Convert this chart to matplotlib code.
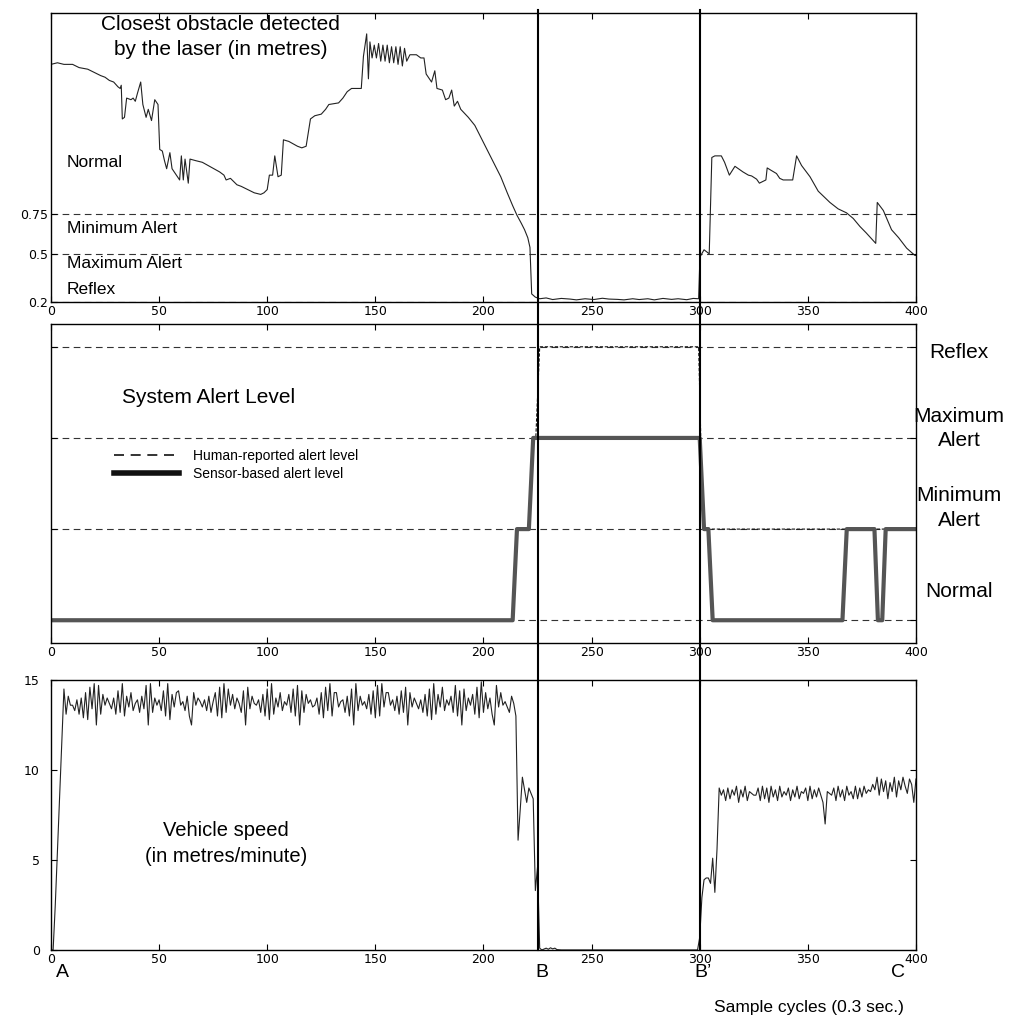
import matplotlib
matplotlib.use('Agg')
import matplotlib.pyplot as plt
from matplotlib.lines import Line2D
from matplotlib.transforms import blended_transform_factory
import numpy as np

plt.rcParams['font.family'] = ['Liberation Sans', 'DejaVu Sans']

# ---- panel 1: closest obstacle (metres), read at breakpoints ----
dist_cycle = [0, 3, 6, 10, 13, 17, 20, 23, 25, 27, 29, 31, 32, 32.5, 33, 34, 35, 37, 38, 39,
              40, 41.5, 42.5, 44, 45, 46.5, 48, 49.5, 50.3, 51.5, 52.5, 53.5, 55, 56, 57.5, 59.5,
              60.3, 61.2, 62, 63.5, 64.3, 67, 70, 74, 78, 80, 81, 83, 86, 88, 91, 94, 97, 98.5,
              100, 101, 102.5, 103.5, 105, 106.5, 107.5, 110, 114, 116, 118, 120, 122, 125, 127,
              128.5, 133, 135, 137, 139, 143.5, 144.5, 146, 146.8, 147.5, 148.5, 149.5, 150.5,
              151.5, 152.5, 153.5, 154.5, 155.5, 156.5, 157.5, 158.5, 159.5, 160.5, 161.5, 162.5,
              163.5, 164.5, 166, 169, 171, 172.5, 173.5, 176, 177.5, 178.5, 181, 182.5, 184, 185.3,
              186.5, 188, 189.5, 193, 196, 199, 202, 205, 208, 211, 213.5, 215.5, 217.5, 219,
              220.5, 221.5, 222.3, 224, 226, 229, 232, 236, 240, 243, 247, 251, 255, 258, 262,
              265, 269, 272, 276, 279, 283, 287, 290, 294, 297, 299.5, 300.1, 302, 304.4, 305.6,
              307, 310, 311.5, 313.7, 316.3, 320, 322.5, 324, 326.3, 327.6, 330.6, 331.2, 333,
              335.5, 337, 338.6, 343, 344.8, 347.1, 351, 354.8, 360.2, 364, 367.9, 371, 374.1,
              377, 380, 381.4, 382.1, 384.9, 388.7, 392, 395.7, 399.5, 400]
dist_m = [1.68, 1.69, 1.68, 1.68, 1.66, 1.65, 1.63, 1.61, 1.60, 1.58, 1.57, 1.54, 1.53, 1.55, 1.34,
          1.35, 1.47, 1.46, 1.47, 1.45, 1.50, 1.57, 1.43, 1.35, 1.40, 1.33, 1.46, 1.43, 1.15, 1.14,
          1.08, 1.03, 1.13, 1.03, 1.00, 0.96, 1.11, 0.96, 1.09, 0.94, 1.09, 1.08, 1.07, 1.04, 1.01,
          0.99, 0.96, 0.97, 0.93, 0.92, 0.90, 0.88, 0.87, 0.88, 0.90, 0.99, 0.99, 1.11, 0.98, 0.99,
          1.21, 1.20, 1.17, 1.16, 1.17, 1.34, 1.36, 1.37, 1.40, 1.43, 1.44, 1.47, 1.51, 1.53, 1.53,
          1.73, 1.87, 1.59, 1.82, 1.72, 1.80, 1.72, 1.81, 1.70, 1.80, 1.70, 1.80, 1.69, 1.79, 1.69,
          1.79, 1.68, 1.79, 1.67, 1.78, 1.70, 1.74, 1.74, 1.72, 1.72, 1.62, 1.57, 1.64, 1.53, 1.52,
          1.46, 1.47, 1.52, 1.42, 1.45, 1.40, 1.35, 1.30, 1.22, 1.14, 1.06, 0.98, 0.88, 0.80, 0.74,
          0.69, 0.65, 0.60, 0.54, 0.25, 0.23, 0.22, 0.225, 0.215, 0.222, 0.218, 0.213, 0.22, 0.215,
          0.223, 0.218, 0.216, 0.213, 0.22, 0.215, 0.22, 0.213, 0.222, 0.216, 0.22, 0.214, 0.222,
          0.22, 0.48, 0.525, 0.50, 1.10, 1.11, 1.11, 1.07, 0.99, 1.045, 1.01, 0.99, 0.985, 0.965,
          0.94, 0.96, 1.035, 1.02, 1.0, 0.97, 0.96, 0.96, 1.11, 1.05, 0.98, 0.89, 0.82, 0.78, 0.755,
          0.72, 0.67, 0.63, 0.585, 0.565, 0.82, 0.77, 0.65, 0.60, 0.535, 0.49, 0.49]
dist_ticks = [0.2, 0.5, 0.75]
dist_ticklabels = ['0.2', '0.5', '0.75']

# ---- panel 2: alert levels (0 normal .. 3 reflex) ----
alert_levels = [0, 1, 2, 3]
alert_names = ['Normal', 'Minimum\nAlert', 'Maximum\nAlert', 'Reflex']
sensor_cycle = [0, 213.5, 215.5, 221, 223, 300, 302, 304, 306, 366, 368, 380.8, 382.4, 384.4, 386, 400]
sensor_level = [0, 0, 1, 1, 2, 2, 1, 1, 0, 0, 1, 1, 0, 0, 1, 1]
human_cycle = [0, 213.5, 215.5, 221, 223, 224.2, 226, 299.5, 301.5, 400]
human_level = [0, 0, 1, 1, 2, 2, 3, 3, 1, 1]

# ---- panel 3: vehicle speed (metres/minute), one value per cycle ----
speed_run1 = [0.0, 0.0, 2.5, 5.5, 8.5, 11.5, 14.5, 13.1,
              14.1, 13.6, 13.6, 13.3, 13.9, 13.1, 14.0, 12.9, 14.3, 12.8, 14.6, 13.4, 14.8, 12.5,
              14.7, 13.1, 14.2, 13.6, 14.0, 13.7, 13.4, 14.0, 13.1, 14.4, 13.2, 14.8, 13.0, 14.1,
              13.5, 14.3, 13.3, 13.7, 13.9, 13.2, 14.1, 13.4, 14.7, 12.5,
              14.8, 13.2, 14.0, 13.6, 13.9, 13.3, 14.4, 13.0, 14.8, 12.8, 14.2, 13.5, 14.3, 14.4,
              13.6, 13.8, 13.3, 14.1, 13.0, 12.5,
              14.3, 13.6, 14.0, 13.8, 13.5, 13.9, 13.3, 14.1, 13.2, 13.8, 14.3, 13.0, 14.6, 12.9,
              14.8, 13.2, 14.5, 13.6, 14.2, 13.4, 14.0, 13.7, 13.2, 14.4, 12.5,
              14.6, 13.4, 14.1, 13.7, 13.6, 13.9, 13.2, 14.2, 13.0, 14.5, 12.8, 14.8, 13.1, 14.0,
              13.5, 14.3, 13.3, 13.8, 13.6, 14.2, 13.2, 14.5, 13.0, 14.7, 12.5,
              14.4, 13.2, 14.2, 13.7, 13.9, 13.5, 13.6, 14.0, 13.1, 14.3, 12.9, 14.6, 13.3, 14.8,
              13.0, 14.3, 14.3, 13.5, 13.8, 13.9, 13.2, 14.1, 13.0, 14.5, 12.5,
              14.8, 13.3, 14.1, 13.6, 13.8, 13.4, 14.2, 13.1, 14.4, 12.9, 14.7, 13.0, 14.8, 13.5,
              14.3, 14.3, 13.6, 13.9, 13.3, 14.1, 13.1, 14.4, 13.2, 14.6, 12.5,
              14.3, 13.5, 14.0, 13.7, 13.4, 13.9, 13.2, 14.2, 13.0, 14.5, 12.8, 14.8, 13.1, 14.2,
              13.5, 14.6, 13.3, 13.9, 13.6, 14.1, 13.2, 14.7, 13.0, 14.4, 12.5,
              14.5, 13.3, 14.0, 13.6, 14.2, 13.1, 14.6, 12.9, 14.9, 13.2, 14.3, 13.4, 14.0, 13.1, 12.5,
              14.7, 13.5, 14.3, 13.6, 13.8, 13.5, 13.2, 14.1, 13.7, 13.0,
              6.1, 7.8, 9.6, 8.9, 8.2, 9.0, 8.7, 8.4, 3.3, 4.6, 0.1]
stop_cycle = [227, 228, 229, 230, 231, 232, 233, 234, 236, 298]
stop_speed = [0.0, 0.05, 0.1, 0.04, 0.12, 0.06, 0.1, 0.02, 0.0, 0.0]
speed_run2 = [0.0, 0.7, 2.9, 3.9, 4.0, 4.0, 3.7, 5.1, 3.2, 5.6, 9.0,
              8.6, 8.9, 8.3, 9.0, 8.4, 8.9, 8.6, 9.1, 8.2, 8.9,
              8.5, 9.1, 8.3, 8.8, 8.7, 8.6, 8.6, 9.0, 8.3, 9.1,
              8.4, 9.0, 8.2, 9.1, 8.5, 8.9, 8.3, 9.1, 8.5, 8.8,
              8.6, 9.0, 8.3, 8.9, 8.5, 9.1, 8.4, 8.8, 8.7, 9.0,
              8.3, 9.1, 8.4, 8.9, 8.5, 9.0, 8.6, 8.2, 7.0, 8.8,
              8.7, 8.6, 9.0, 8.3, 9.1, 8.5, 8.9, 8.3, 9.1, 8.6,
              8.8, 8.4, 9.1, 8.4, 9.0, 8.5, 9.1, 8.7, 8.9, 8.8,
              9.2, 8.9, 9.6, 8.6, 9.5, 8.8, 9.4, 8.4, 9.3, 8.8,
              9.6, 8.5, 9.4, 8.9, 9.6, 9.1, 8.7, 9.5, 9.2, 8.2,
              9.5]
speed_ticks = [0, 5, 10, 15]

events = [225, 300]
event_letters = [(5.5, 'A'), (226.9, 'B'), (301.5, 'B\u2019'), (391.7, 'C')]
cycle_ticks = list(range(0, 401, 50))

# ---- figure ----
fig = plt.figure(figsize=(10.11, 10.16), dpi=100)
L, W = 0.0504, 0.8556
ax1 = fig.add_axes([L, 0.7028, W, 0.2844])
ax2 = fig.add_axes([L, 0.3671, W, 0.3140])
ax3 = fig.add_axes([L, 0.0650, W, 0.2657])

dash_grid = dict(color='#333333', lw=0.8, linestyle=(0, (6, 4)))

for ax in (ax1, ax2, ax3):
    ax.set_xlim(0, 400)
    ax.set_xticks(cycle_ticks)
    ax.tick_params(direction='in', length=4, width=0.8, top=True, right=True,
                   labelsize=9, pad=2)
    for s in ax.spines.values():
        s.set_linewidth(1.0)

# panel 1
ax1.plot(dist_cycle, dist_m, color='#222222', lw=0.8)
ax1.set_ylim(0.2, 2.0)
ax1.set_yticks(dist_ticks)
ax1.set_yticklabels(dist_ticklabels)
ax1.grid(axis='y', **dash_grid)
ax1.text(78.6, 1.85, 'Closest obstacle detected\nby the laser (in metres)',
         ha='center', va='center', fontsize=15, linespacing=1.4)
ax1.text(7.4, 1.07, 'Normal', fontsize=12.5, va='center')
ax1.text(7.4, 0.656, 'Minimum Alert', fontsize=12.5, va='center')
ax1.text(7.4, 0.4375, 'Maximum Alert', fontsize=12.5, va='center')
ax1.text(7.4, 0.28, 'Reflex', fontsize=12.5, va='center')

# panel 2
ax2.set_ylim(-0.25, 3.25)
ax2.set_yticks(alert_levels)
ax2.set_yticklabels([])
ax2.grid(axis='y', **dash_grid)
ax2.plot(human_cycle, human_level, color='#111111', lw=0.8, linestyle=(0, (3, 1.5)))
ax2.plot(sensor_cycle, sensor_level, color='#555555', lw=3)
name_y = [0.31, 1.23, 2.10, 2.94]
for lvl_y, name in zip(name_y, alert_names):
    ax2.text(420, lvl_y, name, ha='center', va='center', fontsize=15,
             linespacing=1.35, clip_on=False)
ax2.text(32.8, 2.44, 'System Alert Level', fontsize=15, va='center')
handles = [Line2D([], [], color='#111111', lw=1.2, linestyle=(0, (6, 4))),
           Line2D([], [], color='#111111', lw=4)]
ax2.legend(handles, ['Human-reported alert level', 'Sensor-based alert level'],
           loc='upper left', bbox_to_anchor=(0.0726, 0.608), frameon=False,
           fontsize=10, borderpad=0, handlelength=4.7, handletextpad=1.0,
           labelspacing=0.3, borderaxespad=0)

# panel 3
x_run1 = np.arange(len(speed_run1))
x_run2 = np.arange(299, 299 + len(speed_run2))
speed_x = np.concatenate([x_run1, stop_cycle, x_run2])
speed_y = np.concatenate([speed_run1, stop_speed, speed_run2])
ax3.plot(speed_x, speed_y, color='#222222', lw=0.8)
ax3.set_ylim(0, 15)
ax3.set_yticks(speed_ticks)
ax3.set_yticklabels([str(t) for t in speed_ticks])
ax3.tick_params(axis='y', pad=8)
ax3.text(80.9, 5.9, 'Vehicle speed\n(in metres/minute)', ha='center', va='center',
         fontsize=14.5, linespacing=1.45)
for xc, letter in event_letters:
    ax3.text(xc, -1.25, letter, ha='center', va='center', fontsize=14, clip_on=False)
ax3.text(350.5, -3.17, 'Sample cycles (0.3 sec.)', ha='center', va='center',
         fontsize=12.5, clip_on=False)

# tick labels in a wide sans, like the original
for ax in (ax1, ax2, ax3):
    for lab in ax.get_xticklabels() + ax.get_yticklabels():
        lab.set_family('DejaVu Sans')

# event lines crossing all panels
tr = blended_transform_factory(ax3.transData, fig.transFigure)
for ev in events:
    fig.add_artist(Line2D([ev, ev], [0.990, 0.065], transform=tr, color='black', lw=1.5))

fig.savefig('out.png', dpi=100)
